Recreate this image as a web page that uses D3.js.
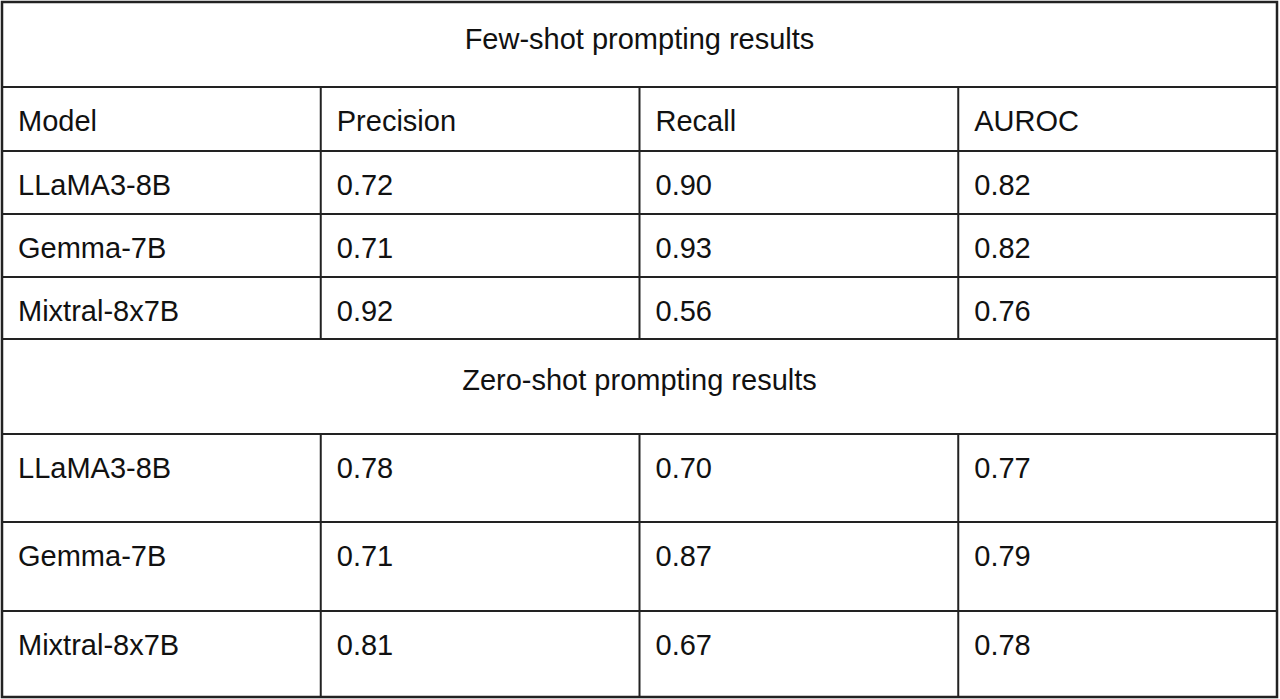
<!DOCTYPE html>
<html>
<head>
<meta charset="utf-8">
<script src="https://d3js.org/d3.v7.min.js"></script>
<style>
  body { margin: 0; background: #fff; }
  text { font-family: "Liberation Sans", Arial, sans-serif; font-size: 29px; fill: #111; }
</style>
</head>
<body>
<div id="chart"></div>
<script>
// table content
const columns = ["Model", "Precision", "Recall", "AUROC"];
const fewTitle = "Few-shot prompting results";
const zeroTitle = "Zero-shot prompting results";
const models = ["LLaMA3-8B", "Gemma-7B", "Mixtral-8x7B"];
const fewPrecision = ["0.72", "0.71", "0.92"];
const fewRecall = ["0.90", "0.93", "0.56"];
const fewAuroc = ["0.82", "0.82", "0.76"];
const zeroPrecision = ["0.78", "0.71", "0.81"];
const zeroRecall = ["0.70", "0.87", "0.67"];
const zeroAuroc = ["0.77", "0.79", "0.78"];

const W = 1280, H = 699;
const svg = d3.select("#chart").append("svg").attr("width", W).attr("height", H);

// row list: title rows span all columns
const zeroHeights = [88, 89, 86];
const rows = [
  {type: "title", text: fewTitle, h: 85, off: 37},
  {type: "row", cells: columns, h: 64},
  ...models.map((m, i) => ({type: "row", cells: [m, fewPrecision[i], fewRecall[i], fewAuroc[i]], h: i === 2 ? 62 : 63})),
  {type: "title", text: zeroTitle, h: 95, off: 41},
  ...models.map((m, i) => ({type: "row", cells: [m, zeroPrecision[i], zeroRecall[i], zeroAuroc[i]], h: zeroHeights[i]}))
];

let y0 = 2;
rows.forEach(r => { r.y = y0; y0 += r.h; });

const x = d3.scaleBand().domain(d3.range(4)).range([2, 1277]);
const line = "#222";

rows.forEach(r => {
  const ty = r.y + (r.off || 34);
  if (r.type === "title") {
    svg.append("text").attr("x", (2 + 1277) / 2).attr("y", ty)
      .attr("text-anchor", "middle").attr("dominant-baseline", "central").text(r.text);
  } else {
    r.cells.forEach((c, j) => {
      svg.append("text").attr("x", x(j) + 16).attr("y", ty)
        .attr("dominant-baseline", "central").text(c);
      if (j > 0) {
        svg.append("line").attr("x1", x(j)).attr("x2", x(j))
          .attr("y1", r.y).attr("y2", r.y + r.h)
          .attr("stroke", line).attr("stroke-width", 2);
      }
    });
  }
  svg.append("line").attr("x1", 2).attr("x2", 1277).attr("y1", r.y).attr("y2", r.y)
    .attr("stroke", line).attr("stroke-width", 2);
});

svg.append("rect").attr("x", 2).attr("y", 2).attr("width", 1275).attr("height", y0 - 2)
  .attr("fill", "none").attr("stroke", line).attr("stroke-width", 2.5);
</script>
</body>
</html>
